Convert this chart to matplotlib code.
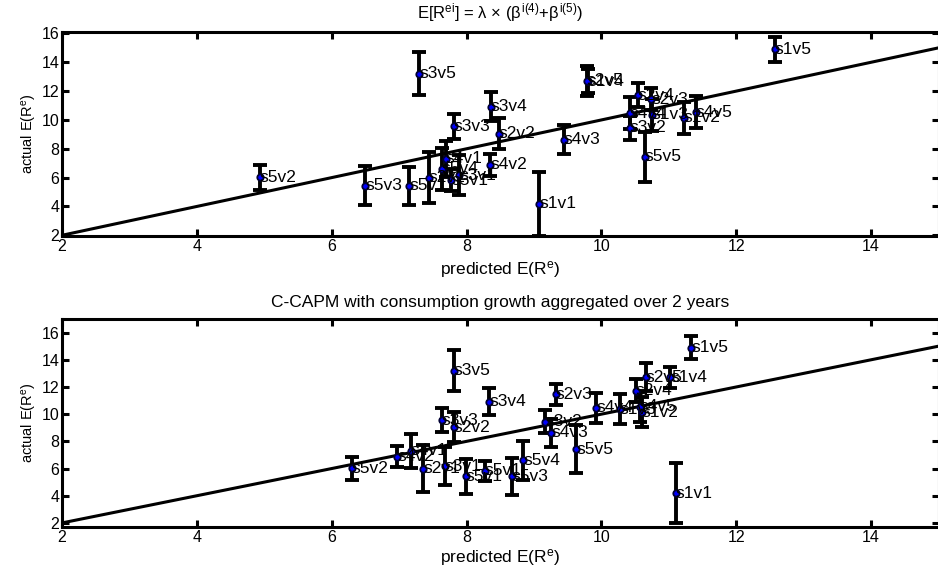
import matplotlib
matplotlib.use("Agg")
import matplotlib.pyplot as plt

plt.rcParams['font.family'] = ['Liberation Sans', 'DejaVu Sans']
plt.rcParams['mathtext.fontset'] = 'custom'
plt.rcParams['mathtext.rm'] = 'Liberation Sans'
plt.rcParams['mathtext.it'] = 'Liberation Sans'
plt.rcParams['mathtext.sf'] = 'Liberation Sans'

labels = ["s1v1", "s1v2", "s1v3", "s1v4", "s1v5",
          "s2v1", "s2v2", "s2v3", "s2v4", "s2v5",
          "s3v1", "s3v2", "s3v3", "s3v4", "s3v5",
          "s4v1", "s4v2", "s4v3", "s4v4", "s4v5",
          "s5v1", "s5v2", "s5v3", "s5v4", "s5v5",
          "s5v1"]

actual = [4.18, 10.14, 10.35, 12.70, 14.90,
          6.00, 9.05, 11.45, 11.72, 12.72,
          6.17, 9.45, 9.56, 10.93, 13.20,
          7.31, 6.88, 8.62, 10.46, 10.54,
          5.42, 6.01, 5.44, 6.60, 7.43,
          5.82]

stderr = [2.20, 1.10, 1.10, 0.80, 0.85,
          1.75, 1.10, 0.75, 0.85, 1.05,
          1.40, 0.83, 0.87, 1.00, 1.50,
          1.25, 0.77, 1.00, 1.10, 1.10,
          1.30, 0.85, 1.35, 1.45, 1.75,
          0.75]

pred_beta = [9.08, 11.22, 10.75, 9.80, 12.57,
             7.44, 8.48, 10.74, 10.54, 9.78,
             7.89, 10.42, 7.81, 8.36, 7.30,
             7.69, 8.35, 9.44, 10.42, 11.40,
             7.15, 4.93, 6.50, 7.63, 10.64,
             7.77]

pred_ccapm = [11.10, 10.60, 10.27, 11.02, 11.33,
              7.36, 7.81, 9.32, 10.51, 10.66,
              7.68, 9.17, 7.63, 8.34, 7.81,
              7.17, 6.97, 9.26, 9.92, 10.57,
              7.99, 6.30, 8.67, 8.84, 9.63,
              8.27]

line_x = [2, 15]
line_y = [2, 15]

title_top = r"E[R$^{\mathrm{ei}}$] = $\lambda$ $\times$ ($\beta^{\mathrm{i(4)}}$+$\beta^{\mathrm{i(5)}}$)"
title_bot = "C-CAPM with consumption growth aggregated over 2 years"
xlab = r"predicted E(R$^{\mathrm{e}}$)"
ylab = r"actual E(R$^{\mathrm{e}}$)"

W, H = 938, 571
fig = plt.figure(figsize=(W / 100, H / 100), dpi=100)

def make_ax(top_px, bot_px):
    left = 62 / W
    right = 938.5 / W
    return fig.add_axes([left, 1 - bot_px / H, right - left, (bot_px - top_px) / H])

ax1 = make_ax(32, 236)
ax2 = make_ax(319, 527)

def draw(ax, xs, ylim):
    ax.plot(line_x, line_y, color='black', lw=2.2, zorder=2)
    ax.errorbar(xs, actual, yerr=stderr, fmt='none', ecolor='black',
                elinewidth=2.8, capsize=5, capthick=2.8, zorder=3)
    ax.plot(xs, actual, linestyle='none', marker='o', ms=4.6,
            mfc='#0000ff', mec='#000033', mew=1.3, zorder=4)
    for x, y, s in zip(xs, actual, labels):
        ax.text(x, y, s, ha='left', va='center', fontsize=12.5, zorder=5)
    ax.set_xlim(2, 15)
    ax.set_ylim(*ylim)
    ax.set_xticks([2, 4, 6, 8, 10, 12, 14])
    ax.set_yticks([2, 4, 6, 8, 10, 12, 14, 16])
    ax.tick_params(direction='in', length=5, width=2.2, top=True, right=True,
                   labelsize=11.5, pad=2)
    for sp in ax.spines.values():
        sp.set_linewidth(2.2)
    ax.set_ylabel(ylab, fontsize=10.5, labelpad=2)

draw(ax1, pred_beta, (1.95, 16.1))
draw(ax2, pred_ccapm, (1.7, 17.0))

def ftext(xpx, ypx, s, size):
    fig.text(xpx / W, 1 - ypx / H, s, ha='center', va='center', fontsize=size)

ftext(500, 13, title_top, 12)
ftext(500, 270, xlab, 12.5)
ftext(500, 302, title_bot, 12.5)
ftext(500, 557, xlab, 12.5)

fig.savefig("out.png", dpi=100)
